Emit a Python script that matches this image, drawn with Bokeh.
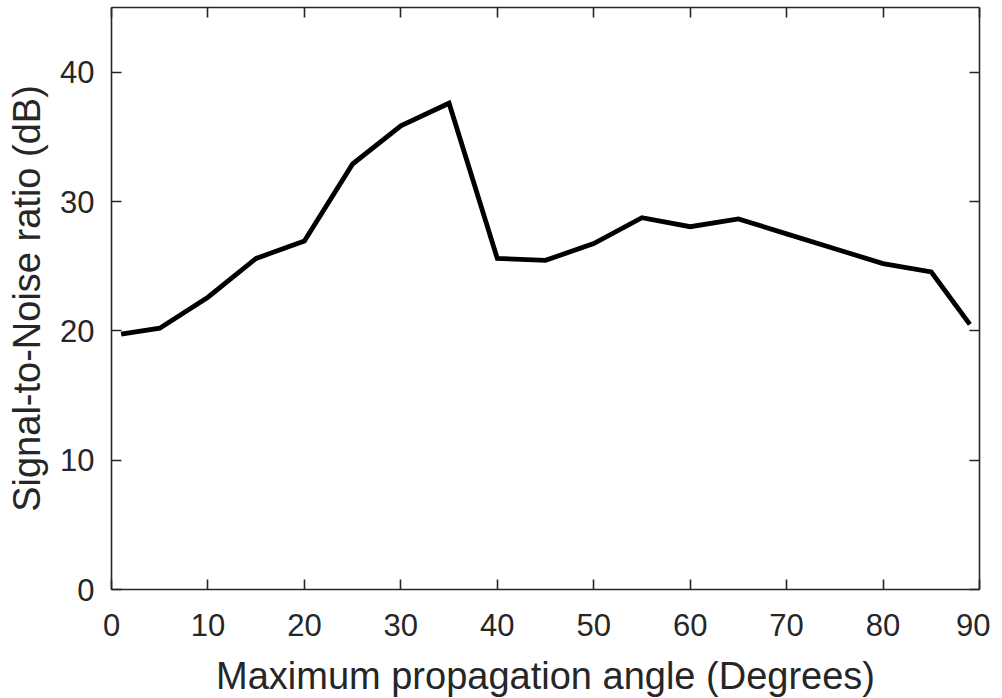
from bokeh.plotting import figure
from bokeh.models import LinearAxis, FixedTicker, Range1d
from bokeh.embed import file_html
from bokeh.resources import INLINE

# ---- data ----
angle = [1, 5, 10, 15, 20, 25, 30, 35, 40, 45, 50, 55, 60, 65, 70, 75, 80, 85, 89]
snr = [19.75, 20.2, 22.6, 25.6, 26.95, 32.9, 35.85, 37.6, 25.6, 25.45, 26.75, 28.75,
       28.05, 28.65, 27.5, 26.35, 25.2, 24.55, 20.5]
x_ticks = [0, 10, 20, 30, 40, 50, 60, 70, 80, 90]
y_ticks = [0, 10, 20, 30, 40]
x_label = "Maximum propagation angle (Degrees)"
y_label = "Signal-to-Noise ratio (dB)"

FONT = "Liberation Sans"
AX = "#262626"

p = figure(width=990, height=701, output_backend="svg", toolbar_location=None,
           x_range=Range1d(0, 90), y_range=Range1d(0, 45),
           x_axis_location=None, y_axis_location=None)
p.min_border_left = 111
p.min_border_right = 11
p.min_border_top = 7
p.min_border_bottom = 112
p.xgrid.visible = False
p.ygrid.visible = False
p.outline_line_color = None
p.background_fill_color = "white"
p.border_fill_color = "white"

def style(ax, ticks, labels=True):
    ax.axis_line_color = AX
    ax.axis_line_width = 1.6
    ax.major_tick_line_color = AX
    ax.major_tick_line_width = 1.6
    ax.major_tick_in = 10
    ax.major_tick_out = 0
    ax.minor_tick_line_color = None
    ax.major_label_text_font = FONT
    ax.major_label_text_color = AX
    ax.axis_label_text_font = FONT
    ax.axis_label_text_color = AX
    ax.axis_label_text_font_style = "normal"
    ax.major_label_text_font_size = "31px"
    ax.axis_label_text_font_size = "38px"
    if not labels:
        ax.major_label_overrides = {t: "" for t in ticks}
        ax.major_label_text_font_size = "2px"
        ax.major_label_standoff = 0
        ax.axis_label_standoff = 0

xb = LinearAxis(ticker=FixedTicker(ticks=x_ticks), axis_label=x_label)
style(xb, x_ticks)
xb.major_label_standoff = 24
xb.axis_label_standoff = 16
p.add_layout(xb, "below")

yl = LinearAxis(ticker=FixedTicker(ticks=y_ticks), axis_label=y_label)
style(yl, y_ticks)
yl.major_label_standoff = 17
yl.axis_label_standoff = 9
p.add_layout(yl, "left")

xt = LinearAxis(ticker=FixedTicker(ticks=x_ticks))
style(xt, x_ticks, labels=False)
p.add_layout(xt, "above")

yr = LinearAxis(ticker=FixedTicker(ticks=y_ticks))
style(yr, y_ticks, labels=False)
p.add_layout(yr, "right")

p.line(angle, snr, line_color="black", line_width=4.8, line_join="miter")

open("out.html", "w").write(file_html(p, INLINE))
